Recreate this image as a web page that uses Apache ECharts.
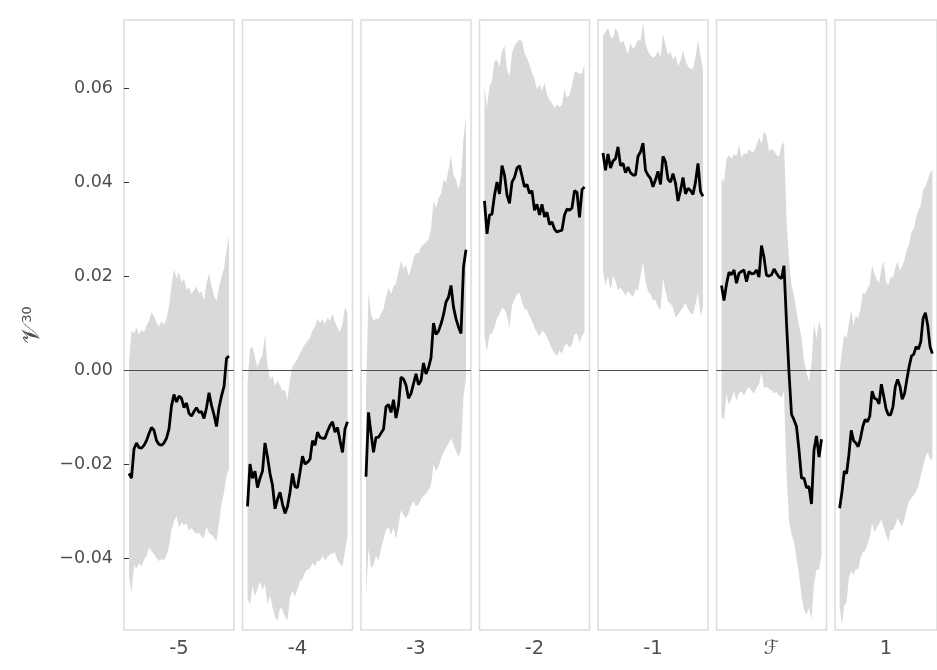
<!DOCTYPE html>
<html>
<head>
<meta charset="utf-8">
<script src="https://cdn.jsdelivr.net/npm/echarts@6/dist/echarts.min.js"></script>
<style>
  html, body { margin: 0; padding: 0; background: #ffffff; }
  #chart { width: 937px; height: 670px; }
</style>
</head>
<body>
<div id="chart"></div>
<script>
// Values below are stored in thousandths; SCALE converts them to axis units.
const SCALE = 1e-3;

const panelLabels = ['-5', '-4', '-3', '-2', '-1', '\u2131', '1'];
const yTicks = [-0.04, -0.02, 0, 0.02, 0.04, 0.06];

// Lag -5
const meanM5  = [-22,-23,-16.8,-15.5,-16.5,-16.6,-16,-15,-13.5,-12.2,-12.8,-15,-15.8,-16,-15.5,-14.5,-12.5,-7.6,-5.2,-6.8,-5.5,-6,-8,-7,-9.2,-9.8,-8.8,-8,-9,-8.8,-10.3,-8,-4.8,-7.5,-9.5,-12,-8,-5.5,-3.5,2.5,3];
const upperM5 = [1.5,8.5,7.8,9,7.5,8.6,8,9.5,10.5,12.3,11.5,10.2,9.3,10.4,9.6,11,13.5,18,21.5,19.5,20.8,18.7,19.5,17.2,17.5,16.2,17,17.8,16.3,16.8,14.8,18.5,20.5,18,15.8,14.6,17.5,20,21.5,25.5,28.5];
const lowerM5 = [-44,-47.5,-41.5,-42.3,-41,-41.8,-40.3,-39.6,-37.8,-38.5,-39.2,-40,-40.6,-40.2,-40.5,-39.4,-37.5,-34,-32.2,-31,-33.5,-32.4,-33,-32.6,-34.2,-33.6,-34.4,-34.8,-34.6,-35.4,-35.8,-33.3,-34.7,-35,-35.6,-36.4,-32.5,-28.5,-26,-22.5,-21];

// Lag -4
const meanM4  = [-29,-20,-23,-21.5,-25,-23,-21.5,-15.5,-18.5,-22,-24.5,-29.5,-27.5,-26,-28.5,-30.5,-29,-26,-22,-24.8,-25,-21.8,-18.3,-20,-19.6,-19,-15,-16,-13.2,-14.3,-14.5,-14.5,-13,-11.8,-11,-13.2,-12.2,-15,-17.5,-12.5,-11];
const upperM4 = [-3,4.5,5,2.8,0.5,2.3,3.2,7.5,1,-2,-1.2,-3.4,-2.2,-3.2,-4.4,-4.2,-6.3,-2,0.8,1.5,2.4,3.6,4.6,5.5,6.2,6.8,8.5,9.3,11,10,10.8,9.8,11.2,10.5,12,10.2,9,8.2,9.8,13.5,12];
const lowerM4 = [-48.5,-50,-46,-48,-46.5,-45,-46.8,-45.5,-49.8,-48,-50.5,-52.5,-53.5,-50.5,-51,-52.5,-53.2,-48.3,-47,-48.2,-46.5,-45,-44.5,-43,-42.4,-42.2,-41,-41.8,-40.5,-40.6,-39.5,-40.5,-39.8,-39.2,-39,-38.8,-40.5,-41.2,-41.8,-38.5,-35.3];

// Lag -3
const meanM3  = [-22.7,-9,-13.4,-17.5,-14.3,-14.3,-13.4,-12.6,-7.8,-7.3,-9,-6.3,-10.2,-7.5,-1.5,-1.9,-3.2,-6,-5,-2.9,-0.8,-3.1,-2.2,1.5,-0.8,0.5,2.6,10,7.6,8.3,9.8,11.8,14.5,15.5,18,13.4,10.9,9.2,7.8,22,25.6];
const upperM3 = [-5,16.5,12,10.5,11,10.8,12,13,15.5,17.5,16.2,17.8,18.5,21,23.2,21.5,22.5,20,21.5,23.8,25,24.8,26.2,26.8,27.2,27.8,30,36,34.5,36.5,37.5,40.5,40,42.5,45.5,41.5,40.5,38.5,41,49.5,53.8];
const lowerM3 = [-48,-38,-42,-41.5,-39.5,-40.5,-38,-36,-34,-33.5,-35,-33.5,-36,-33,-29.8,-30.8,-31.5,-30.5,-28.8,-27.8,-29,-28.6,-27.5,-26.8,-26.3,-25.5,-24.4,-20,-21.5,-20.5,-18.8,-17.5,-16.5,-15.6,-14.5,-15.8,-17.2,-18.5,-17,-5.5,-1.7];

// Lag -2
const meanM2  = [36,29,33,33.2,37.2,40,37.5,43.5,41.5,37.3,35.5,40,41,43,43.5,41.3,39,39.5,37.6,38.2,34,35.3,33,35.3,32.6,33.6,31,31.5,30,29.4,29.6,29.8,33,34.3,34,34.5,38.2,37.8,32.5,38.4,39];
const upperM2 = [60.5,56,60.5,61.5,65.8,66,64.5,67.8,69,64,62.5,67.5,69,69.8,70.3,70,67.5,66.4,65,63.2,62,59.7,60.8,59.5,61.2,58.6,57.4,56.8,55.8,56.5,56,56.4,59.8,58,58.5,60.5,63.5,63.4,63,63.2,65];
const lowerM2 = [7,4,7.5,7.8,9.2,11,12,13.2,13,11.5,9,13.8,15,16.2,16.5,14.5,13,12.8,11.5,10.5,9,8,7.2,8.4,8,7,5.9,4.5,3.6,3,4.2,3.5,5.2,5.6,4.8,5.5,7.6,7.8,5.8,7.2,8.2];

// Lag -1
const meanM1  = [46.2,42.5,46,43,44.5,45,47.5,43.5,44,42,43.2,42,41.5,41.5,45.5,46.4,48.3,42.5,41.5,40.8,39,40.5,42.3,39.5,45.5,44.3,40.6,40,41.8,39.8,36,38.2,41,37.5,38.7,38.2,37.4,40,44,38,37];
const upperM1 = [71,72,72.8,71,70.6,72.8,71.8,69.5,70.2,68.8,67.2,69.5,68.4,69,70.4,70,74,69.5,67.8,67,66.5,66.8,68,66.6,71.5,69.3,67,67.8,66,67,64.6,65.8,68,65.8,64.6,64.2,64,66.5,70.2,67,64];
const lowerM1 = [21,18,20,17,20,18.8,17,17.6,16.8,15.8,16.8,16.2,15.5,17.2,17,20,23,19,16.8,16.2,14.8,15,13.4,12.8,19.5,16.8,14.5,14.2,13.4,11.2,11.8,12.6,13.4,14.3,13,12.2,11.8,14,16.5,11.5,13.4];

// Formation period
const meanF   = [18,14.8,18.3,20.8,20.3,21.3,18.5,20.6,21,21.3,18.8,21,20.5,20.6,21.3,19.8,26.5,24,20.2,20,20.3,21.5,20.6,19.8,19.5,22.2,10.1,-0.5,-9.4,-10.6,-12,-17,-23,-23,-25,-24.8,-28.5,-17,-14,-18.5,-14.7];
const upperF  = [41,40,45,45.8,45,46,45.5,48,45.2,46.2,46,47,46.4,46.5,47.8,49.5,48.2,50.8,50,46.5,47,46.6,45.8,45.4,47.8,48.5,32,23.5,18,15.8,12.5,9.5,7,2,-0.5,-2.5,1.5,10,6.7,10.5,8.4];
const lowerF  = [-10,-10.5,-5.2,-7.5,-6,-4.5,-6.5,-5,-4.5,-5.5,-4.2,-3.6,-4.4,-5,-3.8,-3,-0.5,-3.8,-3.5,-4,-4.3,-5,-4.6,-5.4,-5.8,-4.5,-22,-32,-35,-36.5,-40,-43.5,-48,-51,-52,-50.5,-53,-45.5,-42.5,-42.5,-39.5];

// Lag +1
const meanP1  = [-29.4,-26,-21.5,-22,-18,-12.8,-15,-15.5,-16.3,-14.5,-12,-10.5,-11,-9.8,-4.5,-6,-6.2,-7.2,-3,-5.5,-8.2,-9.5,-9.5,-7.8,-3.6,-2,-3.4,-6.2,-5,-2,0.8,3,3.4,5,4.5,6,11,12.2,9.5,5,3.5];
const upperP1 = [0,4,7.5,6.8,10,12.8,9.5,11.6,11,13,16.5,16.2,17.3,18.2,22.3,20.4,19.3,18.6,21.5,23.2,18.8,18,19.8,19.6,21.8,23,21.2,22.2,23.5,25.6,26.9,29.5,30,32.5,34,35,38.5,39,40.5,42,42.5];
const lowerP1 = [-50.4,-54,-50,-49.5,-44,-42.8,-43.5,-42.2,-42.5,-40,-38.7,-38.5,-37,-35.5,-32.5,-34.5,-33.5,-32.8,-31.8,-33.5,-35,-36.5,-34,-34,-33,-31.4,-32.6,-33.2,-31.5,-29.5,-27.8,-27.2,-26.6,-25.8,-24.6,-22.5,-20.5,-18.5,-17.5,-19,-19];

const panels = [
  { label: panelLabels[0], mean: meanM5, upper: upperM5, lower: lowerM5 },
  { label: panelLabels[1], mean: meanM4, upper: upperM4, lower: lowerM4 },
  { label: panelLabels[2], mean: meanM3, upper: upperM3, lower: lowerM3 },
  { label: panelLabels[3], mean: meanM2, upper: upperM2, lower: lowerM2 },
  { label: panelLabels[4], mean: meanM1, upper: upperM1, lower: lowerM1 },
  { label: panelLabels[5], mean: meanF,  upper: upperF,  lower: lowerF  },
  { label: panelLabels[6], mean: meanP1, upper: upperP1, lower: lowerP1 }
];

const Y_MIN = -0.0553;
const Y_MAX = 0.0745;
const TEXT = '#4d4d4d';
const FONT = 'DejaVu Sans';
const BAND = '#d9d9d9';

const toPairs = arr => arr.map((v, i) => [i, v * SCALE]);
const fmtTick = v => (v < 0 ? '\u2212' : '') + Math.abs(v).toFixed(2);

const grids = panels.map((p, k) => ({
  left: 124 + k * 118.5,
  top: 20,
  width: 110,
  height: 610,
  show: true,
  borderColor: '#dcdcdc',
  borderWidth: 1.5,
  backgroundColor: 'transparent'
}));

const xAxes = panels.map((p, k) => ({
  type: 'value',
  gridIndex: k,
  min: -2,
  max: p.mean.length + 1,
  axisLine: { show: false },
  axisTick: { show: false },
  splitLine: { show: false },
  axisLabel: {
    customValues: [(p.mean.length - 1) / 2],
    formatter: () => p.label,
    color: TEXT,
    fontSize: 19.5,
    fontFamily: FONT,
    margin: 9
  }
}));

const yAxes = panels.map((p, k) => ({
  type: 'value',
  gridIndex: k,
  min: Y_MIN,
  max: Y_MAX,
  splitLine: { show: false },
  axisLine: { show: false },
  axisTick: {
    show: k === 0,
    length: 5,
    customValues: yTicks,
    lineStyle: { color: '#333333', width: 1 }
  },
  axisLabel: {
    show: k === 0,
    customValues: yTicks,
    formatter: fmtTick,
    color: TEXT,
    fontSize: 17.5,
    fontFamily: FONT,
    margin: 11
  },
  name: k === 0 ? '{v|\uD835\uDCB1}{s|30}' : '',
  nameLocation: 'middle',
  nameRotate: 90,
  nameGap: 79,
  nameTextStyle: {
    rich: {
      v: { fontSize: 25, color: TEXT, fontFamily: FONT },
      s: { fontSize: 13, color: TEXT, fontFamily: FONT, verticalAlign: 'top', padding: [1, 0, 0, 0] }
    }
  }
}));

// Interval band: one filled polygon per panel, traced along the upper
// edge and back along the lower edge, positioned through the panel's axes.
function bandRenderer(p) {
  return function (params, api) {
    if (params.dataIndex !== 0) return null;
    const pts = [];
    for (let i = 0; i < p.upper.length; i++) pts.push(api.coord([i, p.upper[i] * SCALE]));
    for (let i = p.lower.length - 1; i >= 0; i--) pts.push(api.coord([i, p.lower[i] * SCALE]));
    return {
      type: 'polygon',
      shape: { points: pts },
      style: { fill: BAND, stroke: null },
      silent: true
    };
  };
}

const series = [];
panels.forEach((p, k) => {
  series.push({
    type: 'custom',
    xAxisIndex: k,
    yAxisIndex: k,
    data: p.upper.map((v, i) => [i, p.lower[i] * SCALE, v * SCALE]),
    renderItem: bandRenderer(p),
    silent: true,
    clip: true,
    z: 1
  });
  // zero reference line and point estimate
  series.push({
    type: 'line',
    xAxisIndex: k,
    yAxisIndex: k,
    data: toPairs(p.mean),
    symbol: 'none',
    silent: true,
    lineStyle: { color: '#000000', width: 2.8 },
    z: 3,
    markLine: {
      silent: true,
      symbol: 'none',
      label: { show: false },
      z: 2,
      lineStyle: { color: '#4d4d4d', width: 1, type: 'solid' },
      data: [{ yAxis: 0 }]
    }
  });
});

const chart = echarts.init(document.getElementById('chart'), null, { renderer: 'canvas' });
chart.setOption({
  animation: false,
  backgroundColor: '#ffffff',
  grid: grids,
  xAxis: xAxes,
  yAxis: yAxes,
  series: series
});
</script>
</body>
</html>
